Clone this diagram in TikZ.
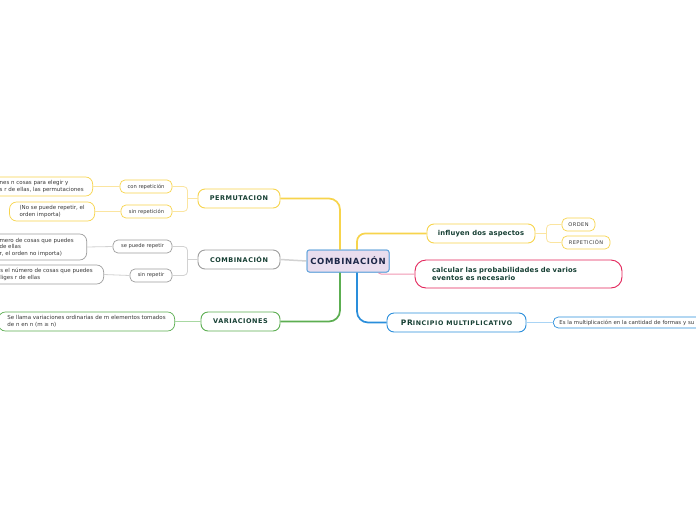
\documentclass[tikz,border=0pt]{standalone}
\usepackage{fontspec}
\setmainfont{DejaVu Sans}
\newfontfamily\capsA{DejaVu Sans}[LetterSpace=8]
\newfontfamily\capsB{DejaVu Sans}[LetterSpace=7.5]
\newfontfamily\capsC{DejaVu Sans}[LetterSpace=10]
\newfontfamily\lowA{DejaVu Sans}[LetterSpace=2.5]
\newfontfamily\subcaps{DejaVu Sans}[LetterSpace=8]
\definecolor{cy}{HTML}{F7D44C}
\definecolor{cyl}{HTML}{FBE5A0}
\definecolor{cg}{HTML}{9E9E9E}
\definecolor{cgl}{HTML}{D2D2D2}
\definecolor{cgr}{HTML}{5CAE51}
\definecolor{cgrl}{HTML}{A8D8A2}
\definecolor{cb}{HTML}{2A8EDB}
\definecolor{cbl}{HTML}{A9D4F5}
\definecolor{cr}{HTML}{E3245A}
\definecolor{crl}{HTML}{F197B3}
\definecolor{lav}{HTML}{E9DDEE}
\definecolor{cbd}{HTML}{6AA8DD}
\definecolor{tgreen}{HTML}{163F33}
\definecolor{tnavy}{HTML}{1C2748}
\definecolor{tgray}{HTML}{383838}
\tikzset{
  mainbox/.style={draw=cbd, fill=lav, line width=1pt, rounded corners=2.5pt,
    minimum width=82pt, minimum height=22pt, inner sep=0pt,
    font=\capsB\fontsize{8.5}{9}\selectfont\bfseries, text=tnavy},
  topic/.style={fill=white, line width=0.9pt, rounded corners=7pt,
    minimum height=19pt, inner sep=0pt,
    font=\capsA\fontsize{6.5}{7.5}\selectfont\bfseries, text=tgreen},
  topiclow/.style={topic, font=\lowA\fontsize{6.8}{8.2}\selectfont\bfseries},
  subbox/.style={fill=white, line width=0.7pt, rounded corners=5pt,
    minimum height=13pt, inner sep=0pt,
    font=\fontsize{5.2}{6}\selectfont, text=tgray},
  subcapsbox/.style={subbox, font=\subcaps\fontsize{5.1}{6}\selectfont},
  leaf/.style={fill=white, line width=0.7pt, rounded corners=7pt,
    inner ysep=2pt, align=left,
    font=\fontsize{5.5}{6.8}\selectfont, text=tgray},
  thinline/.style={line width=0.8pt, rounded corners=4pt},
  thickline/.style={line width=1.7pt, rounded corners=11pt},
}
\begin{document}
\begin{tikzpicture}[x=1pt,y=-1pt]
\useasboundingbox (0,0) rectangle (696,520);
\clip (0,0) rectangle (696,520);
\fill[white] (0,0) rectangle (696,520);

\coordinate (cl1) at (340,250);
\coordinate (cl2) at (340,272);
\coordinate (cr1) at (357,250);
\coordinate (cr2) at (357,272);
\coordinate (cp) at (378,272);

% nodes
\node[mainbox] (C) at (348,261) {COMBINACIÓN};

\node[topic, draw=cy, minimum width=82pt] (PERM) at (239,198.5) {PERMUTACION};
\node[topic, draw=cg, minimum width=82pt] (COMB) at (239,259.5) {COMBINACIÓN};
\node[topic, draw=cgr, minimum width=79pt] (VAR) at (240.5,321.5) {VARIACIONES};
\node[topiclow, draw=cy, minimum width=108pt] (INF) at (481,233.5) {influyen dos aspectos};
\node[topiclow, draw=cr, minimum width=207pt, minimum height=28pt, rounded corners=11pt,
  text width=173pt, inner xsep=17pt, align=left] (CAL) at (518.5,274)
  {calcular las probabilidades de varios\\eventos es necesario};
\node[topic, draw=cb, minimum width=139pt, font=\capsC\bfseries] (PRI) at (456.5,322.5)
  {{\fontsize{7.5}{8}\selectfont PR}{\fontsize{6.3}{7}\selectfont INCIPIO MULTIPLICATIVO}};

\node[subcapsbox, draw=cy, minimum width=33pt] (ORD) at (578.5,224.5) {ORDEN};
\node[subcapsbox, draw=cy, minimum width=48pt] (REP) at (586,242.5) {REPETICIÓN};
\node[subbox, draw=cb, minimum height=11pt, anchor=west, text width=200pt,
  align=left, inner xsep=6pt, font=\fontsize{5.4}{6}\selectfont] (ES) at (553,322.5)
  {Es la multiplicación en la cantidad de formas y su};

\node[subbox, draw=cy, minimum width=52pt] (CON) at (146,186.5) {con repetición};
\node[subbox, draw=cy, minimum width=51pt] (SIN) at (146.5,211.5) {sin repetición};
\node[subbox, draw=cg, minimum width=59pt] (SPR) at (142.5,246.5) {se puede repetir};
\node[subbox, draw=cg, minimum width=42pt] (SR) at (151,275.5) {sin repetir};

\node[leaf, draw=cy, anchor=east, inner xsep=9pt, minimum height=19pt] (L1) at (93,186.5)
  {nes n cosas para elegir y\\s r de ellas, las permutaciones};
\node[leaf, draw=cy, anchor=east, inner xsep=10pt, minimum height=19pt] (L2) at (95,211.5)
  {(No se puede repetir, el\\orden importa)};
\node[leaf, draw=cg, anchor=east, inner xsep=13pt, minimum height=26pt,
  font=\fontsize{5.5}{6.5}\selectfont] (L3) at (87,247)
  {mero de cosas que puedes\\de ellas\\r, el orden no importa)};
\node[leaf, draw=cg, anchor=east, inner xsep=11pt, minimum height=19pt] (L4) at (104,274.5)
  {s el número de cosas que puedes\\liges r de ellas};
\node[leaf, draw=cgr, anchor=east, inner xsep=9pt, minimum height=19pt] (L5) at (175,321.5)
  {Se llama variaciones ordinarias de m elementos tomados\\de n en n (m ≥ n)};

% connectors from center
\draw[thickline, draw=cy] (cl1) |- (PERM.east);
\draw[thickline, draw=cgr] (cl2) |- (VAR.east);
\draw[line width=1.5pt, draw=cgl] (C.west) -- (COMB.east);
\draw[thickline, draw=cy, rounded corners=8pt] (cr1) |- (INF.west);
\draw[thickline, draw=cb] (cr2) |- (PRI.west);
\draw[line width=1pt, draw=crl, rounded corners=3pt] (cp) |- (CAL.west);

% sub connectors
\draw[thinline, draw=cyl] (PERM.west) -- ++(-10,0);
\draw[thinline, draw=cyl] (CON.east) -| ([xshift=-10pt]PERM.west) |- (SIN.east);
\draw[thinline, draw=cgl] (COMB.west) -- ++(-10,0);
\draw[thinline, draw=cgl] (SPR.east) -| ([xshift=-10pt]COMB.west) |- (SR.east);
\draw[thinline, draw=cyl] (INF.east) -- ++(11,0);
\draw[thinline, draw=cyl] (ORD.west) -| ([xshift=11pt]INF.east) |- (REP.west);
\draw[thinline, draw=cbl] (PRI.east) -- (ES.west);
\draw[thinline, draw=cyl] (CON.west) -- (L1.east);
\draw[thinline, draw=cyl] (SIN.west) -- (L2.east);
\draw[thinline, draw=cgl] (SPR.west) -- (L3.east);
\draw[thinline, draw=cgl] (SR.west) -- (L4.east);
\draw[thinline, draw=cgrl] (VAR.west) -- (L5.east);

% redraw center on top
\node[mainbox] at (C) {COMBINACIÓN};
\end{tikzpicture}
\end{document}
